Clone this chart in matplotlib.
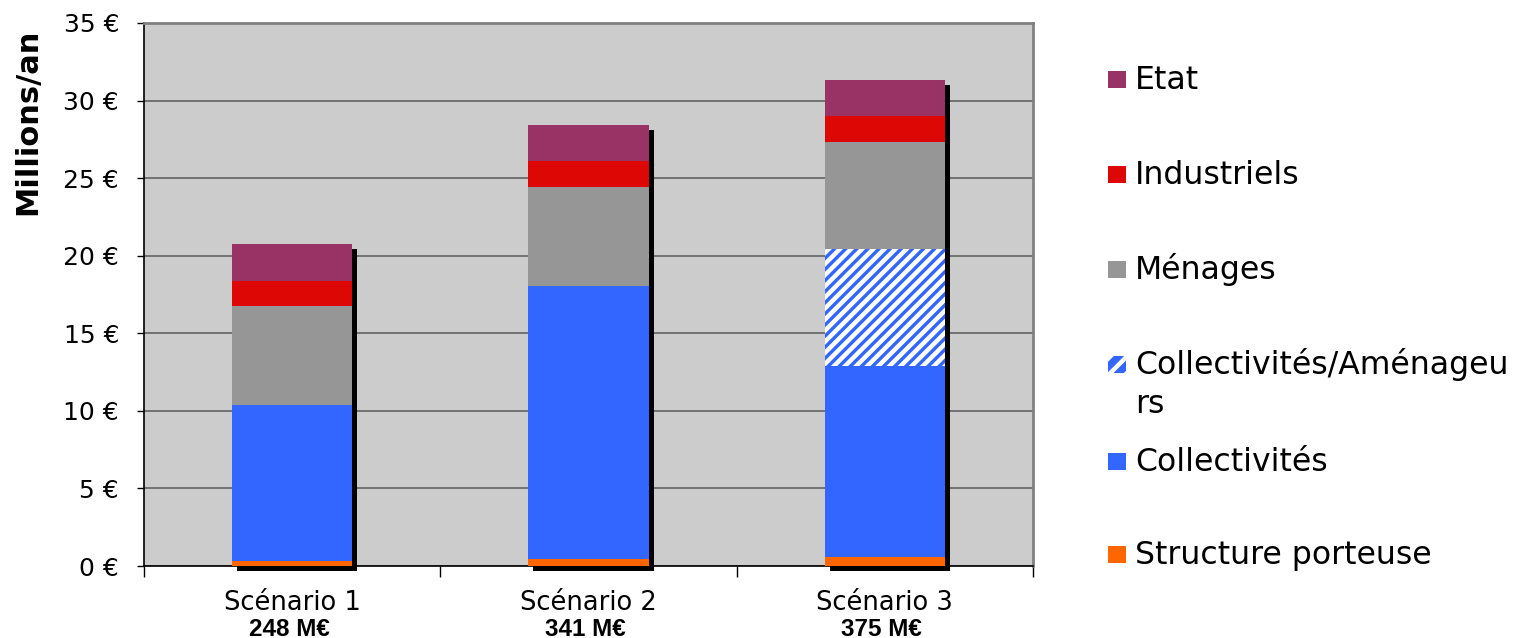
import matplotlib
matplotlib.use("Agg")
import matplotlib.pyplot as plt
import matplotlib.transforms as mtransforms
from matplotlib.patches import Rectangle
import numpy as np

plt.rcParams['font.family'] = ['DejaVu Sans']
plt.rcParams['hatch.linewidth'] = 3.2

categories = ['Scénario 1', 'Scénario 2', 'Scénario 3']
totals_labels = ['248 M€', '341 M€', '375 M€']

series_names = ['Structure porteuse', 'Collectivités', 'Collectivités/Aménageurs',
                'Ménages', 'Industriels', 'Etat']
structure = [0.30, 0.45, 0.58]
collectivites = [10.08, 17.60, 12.30]
amenageurs = [0.0, 0.0, 7.53]
menages = [6.38, 6.39, 6.90]
industriels = [1.63, 1.64, 1.69]
etat = [2.35, 2.33, 2.34]

colors = ['#FF6600', '#3366FF', '#3366FF', '#969696', '#DD0806', '#993366']
yticks = [0, 5, 10, 15, 20, 25, 30, 35]

W, H = 1516, 638
fig = plt.figure(figsize=(W / 100, H / 100), dpi=100)
ax = fig.add_axes([144 / W, 1 - 566 / H, (1033 - 144) / W, (566 - 23) / H])
ax.set_facecolor('#CCCCCC')

x = np.arange(len(categories))
width = 0.405
series = [structure, collectivites, amenageurs, menages, industriels, etat]
totals = np.sum(np.array(series), axis=0)

# shadow
shadow_tr = mtransforms.offset_copy(ax.transData, fig=fig, x=5, y=-5, units='dots')
ax.bar(x, totals, width, color='black', transform=shadow_tr, zorder=2, clip_on=False)

bottom = np.zeros(len(categories))
for name, vals, c in zip(series_names, series, colors):
    if name == 'Collectivités/Aménageurs':
        ax.bar(x, vals, width, bottom=bottom, facecolor=c, edgecolor='white',
               linewidth=0, hatch='///', zorder=3)
    else:
        ax.bar(x, vals, width, bottom=bottom, color=c, linewidth=0, zorder=3)
    bottom = bottom + np.array(vals)

ax.set_xlim(-0.5, 2.5)
ax.set_ylim(0, 35)
ax.set_yticks(yticks)
ax.set_yticklabels([f'{v} €' for v in yticks])
ax.yaxis.grid(True, color='#5a5a5a', linewidth=1.1, zorder=1)
ax.set_axisbelow(True)

ax.set_xticks(x)
ax.set_xticklabels(categories, fontsize=18.5)
ax.set_xticks([-0.5, 0.5, 1.5, 2.5], minor=True)
ax.tick_params(axis='x', which='major', length=0, pad=17)
ax.tick_params(axis='x', which='minor', length=8, width=1, color='black')
ax.tick_params(axis='y', which='major', length=5, width=1, labelsize=18, pad=13)

for sp in ['left', 'bottom']:
    ax.spines[sp].set_color('black')
    ax.spines[sp].set_linewidth(1.2)
for sp in ['top', 'right']:
    ax.spines[sp].set_color('#808080')
    ax.spines[sp].set_linewidth(2)

# bold totals under category labels
ttr = mtransforms.blended_transform_factory(ax.transData, fig.transFigure)
for xi, lab in zip(x, totals_labels):
    ax.text(xi - 0.01, 1 - 636 / H, lab, transform=ttr, ha='center', va='baseline',
            fontsize=17.5, fontweight='bold', family=['Liberation Sans', 'DejaVu Sans'])

fig.text(28 / W, 1 - 122 / H, 'Millions/an', rotation=90, ha='center', va='center',
         fontsize=22, fontweight='bold')

# legend (manual, Excel-like)
leg_order = ['Etat', 'Industriels', 'Ménages', 'Collectivités/Aménageurs',
             'Collectivités', 'Structure porteuse']
leg_baselines = [89, 184, 279, 374, 471, 564]
for name, yb in zip(leg_order, leg_baselines):
    c = colors[series_names.index(name)]
    if name == 'Collectivités/Aménageurs':
        r = Rectangle((1108 / W, 1 - (yb - 1) / H), 18 / W, 17 / H, transform=fig.transFigure,
                      facecolor=c, edgecolor='white', linewidth=0, hatch='//')
        fig.add_artist(r)
        fig.text(1135 / W, 1 - yb / H, 'Collectivités/Aménageu', fontsize=22.7, va='baseline')
        fig.text(1135 / W, 1 - (yb + 39) / H, 'rs', fontsize=22.7, va='baseline')
    else:
        r = Rectangle((1108 / W, 1 - (yb - 1) / H), 18 / W, 17 / H, transform=fig.transFigure,
                      facecolor=c, edgecolor='none', linewidth=0)
        fig.add_artist(r)
        fig.text(1135 / W, 1 - yb / H, name, fontsize=22.7, va='baseline')

fig.savefig('out.png', dpi=100)
